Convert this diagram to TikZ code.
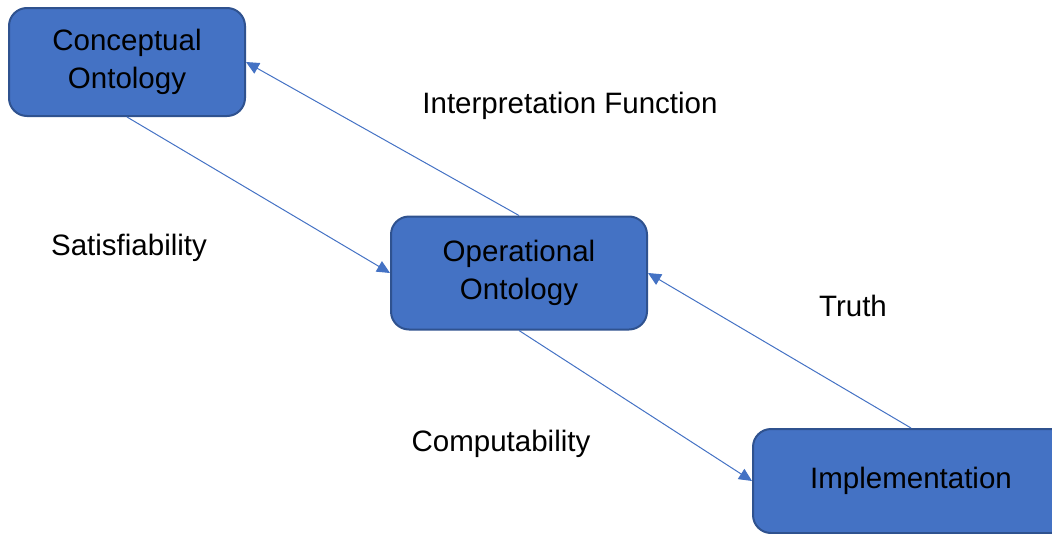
\documentclass[tikz,border=0pt]{standalone}
\usepackage{fontspec}
\setmainfont{Liberation Sans}
\usetikzlibrary{arrows.meta}
\definecolor{boxblue}{HTML}{4472C4}
\definecolor{boxedge}{HTML}{2F528F}

\begin{document}
\begin{tikzpicture}[x=1pt,y=-1pt,
  font=\fontsize{29.5}{38}\selectfont,
  box/.style={draw=boxedge, line width=2pt, fill=boxblue, rounded corners=18pt, align=center, inner sep=0pt},
  link/.style={draw=boxblue, line width=1pt, -{Triangle[length=13pt,width=12pt]}},
  lbl/.style={inner sep=0pt, anchor=base}]

\useasboundingbox (0,0) rectangle (1052,533);
\clip (0,0) rectangle (1052,533);


\node[box, minimum width=236pt, minimum height=108pt] (v1) at (127,62) {Conceptual\\Ontology};
\node[box, minimum width=256pt, minimum height=113pt] (v2) at (519,273) {Operational\\Ontology};
\node[box, minimum width=316pt, minimum height=104pt] (v3) at (911,481) {Implementation};

\draw[link] (v1.south) -- (v2.west);
\draw[link] (v2.north) -- (v1.east);
\draw[link] (v2.south) -- (v3.west);
\draw[link] (v3.north) -- (v2.east);

\node[lbl] (l1) at (570,113) {Interpretation Function};
\node[lbl] (l2) at (129,255) {Satisfiability};
\node[lbl] (l3) at (853,316) {Truth};
\node[lbl] (l4) at (501,451) {Computability};
\end{tikzpicture}
\end{document}
